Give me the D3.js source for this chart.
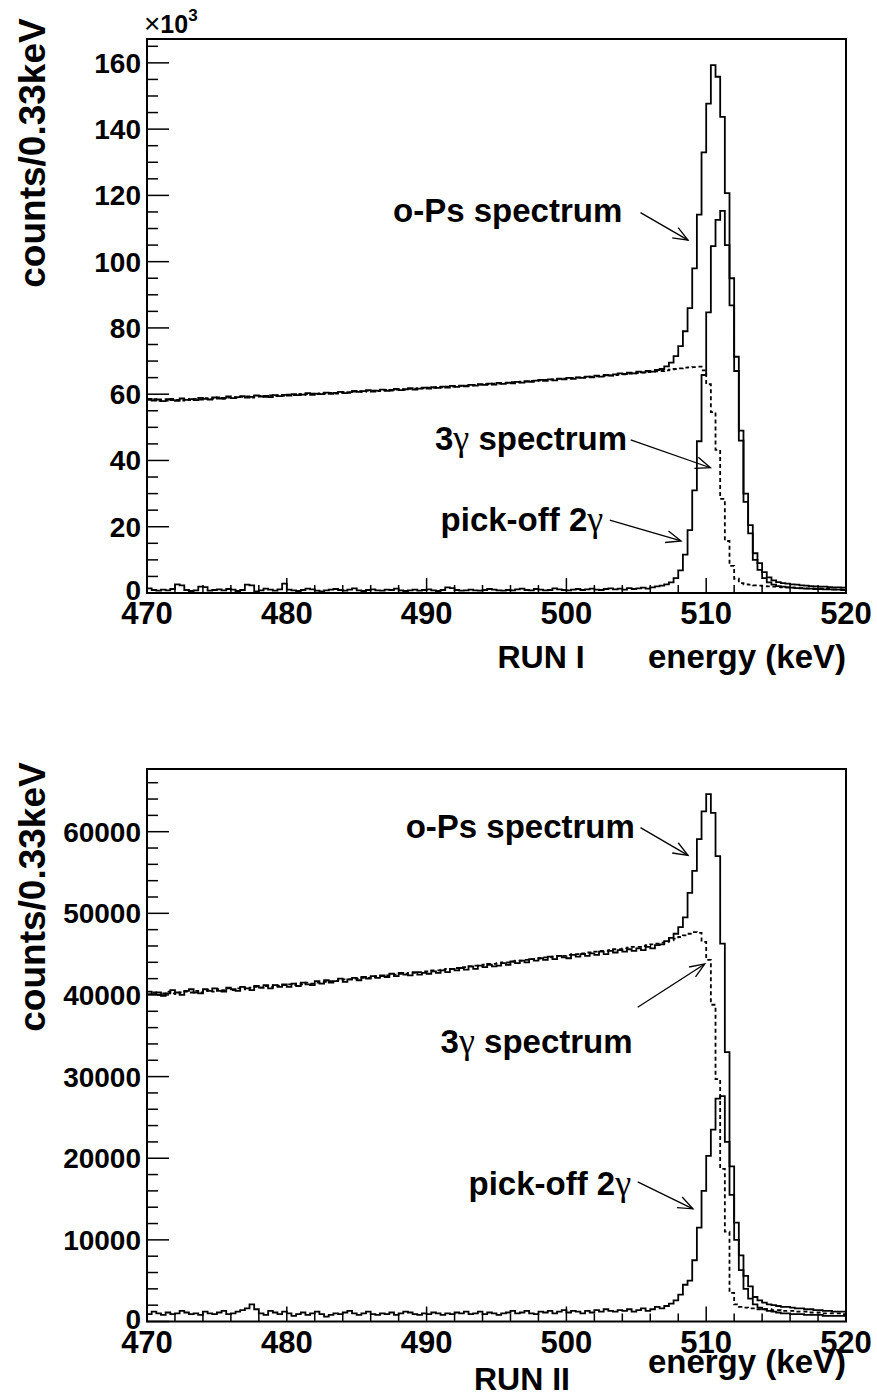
<!DOCTYPE html>
<html>
<head>
<meta charset="utf-8">
<script src="https://cdn.jsdelivr.net/npm/d3@7"></script>
<style>
  body { margin: 0; background: #fff; }
  svg text { font-family: "Liberation Sans", Arial, Helvetica, sans-serif; font-weight: bold; fill: #000; }
</style>
</head>
<body>
<svg id="chart" width="877" height="1399"></svg>
<script>
// Energy binning: 150 bins of 1/3 keV between 470 and 520 keV
const energyRange = [470, 520];
const binWidth = 1 / 3;

// ---- RUN I (counts in units of 10^3 per bin) ----
const run1Total = [
  58.6, 58.1, 58.4, 57.9, 58.5, 58.2, 58.0, 58.7, 58.3, 58.5,
  58.2, 58.9, 58.6, 58.4, 59.0, 58.7, 58.9, 59.3, 58.8, 59.1,
  59.4, 59.0, 59.2, 59.6, 59.3, 59.5, 59.1, 59.7, 59.4, 59.8,
  59.6, 60.0, 59.7, 59.9, 60.3, 59.8, 60.2, 60.0, 60.5, 60.1,
  60.4, 60.7, 60.3, 60.6, 61.0, 60.7, 60.9, 61.2, 60.8, 61.1,
  61.4, 61.0, 61.3, 61.6, 61.2, 61.5, 61.8, 61.4, 61.7, 62.0,
  61.7, 62.1, 61.9, 62.3, 62.0, 62.5, 62.2, 62.6, 62.4, 62.8,
  62.6, 63.0, 62.8, 63.2, 62.9, 63.4, 63.1, 63.5, 63.3, 63.7,
  63.5, 63.9, 63.7, 64.1, 64.3, 64.0, 64.5, 64.2, 64.7, 64.5,
  64.9, 64.6, 65.1, 64.9, 65.3, 65.1, 65.6, 65.3, 65.8, 65.6,
  66.0, 66.3, 66.1, 66.5, 66.3, 66.8, 66.6, 67.0, 66.8, 67.3,
  67.6, 68.4, 69.5, 71.5, 74.5, 79.0, 86.0, 98.0, 114.2, 133.0,
  147.7, 159.3, 155.8, 143.7, 120.7, 95.0, 71.3, 49.0, 30.0, 20.5,
  12.0, 9.0, 6.3, 4.7, 3.8, 3.3, 3.0, 2.8, 2.6, 2.5,
  2.3, 2.2, 2.1, 2.0, 1.9, 1.9, 1.8, 1.7, 1.7, 1.6
];
const run1ThreeGamma = [
  58.3, 58.5, 58.0, 58.2, 58.1, 58.6, 58.3, 58.1, 58.5, 58.2,
  58.6, 58.4, 58.8, 58.5, 58.7, 59.0, 58.6, 59.0, 59.1, 58.9,
  59.2, 59.3, 59.0, 59.4, 59.5, 59.2, 59.6, 59.4, 59.7, 59.5,
  59.9, 59.7, 60.1, 59.8, 60.0, 60.2, 60.0, 60.3, 60.2, 60.4,
  60.2, 60.5, 60.6, 60.4, 60.8, 60.9, 60.7, 61.0, 61.1, 60.9,
  61.2, 61.3, 61.1, 61.4, 61.5, 61.3, 61.6, 61.7, 61.9, 61.8,
  62.0, 61.9, 62.2, 62.1, 62.3, 62.3, 62.4, 62.5, 62.6, 62.7,
  62.8, 62.9, 63.0, 63.0, 63.2, 63.2, 63.4, 63.4, 63.6, 63.6,
  63.8, 63.8, 64.0, 64.0, 64.2, 64.3, 64.4, 64.5, 64.6, 64.7,
  64.8, 64.9, 65.0, 65.1, 65.2, 65.3, 65.4, 65.5, 65.6, 65.7,
  65.8, 65.9, 66.0, 66.2, 66.3, 66.4, 66.5, 66.7, 66.8, 66.9,
  67.0, 67.2, 67.4, 67.6, 67.8, 68.0, 68.1, 68.2, 68.3, 67.2,
  63.0, 54.6, 43.2, 28.4, 15.7, 8.2, 4.3, 3.0, 2.6, 2.5,
  2.3, 2.2, 2.1, 2.0, 1.9, 1.8, 1.7, 1.7, 1.6, 1.5,
  1.5, 1.4, 1.4, 1.3, 1.3, 1.2, 1.2, 1.1, 1.1, 1.0
];
const run1PickOff = [
  1.4, 0.9, 0.7, 1.0, 0.8, 1.2, 2.6, 2.3, 0.9, 0.6,
  0.8, 1.9, 1.8, 0.7, 0.9, 1.1, 0.8, 1.2, 1.0, 0.6,
  0.9, 2.5, 2.3, 0.5, 0.8, 1.3, 1.0, 0.7, 1.1, 2.8,
  1.0, 0.8, 0.6, 0.9, 1.3, 1.1, 0.7, 0.5, 0.8, 1.0,
  1.2, 0.9, 0.7, 1.0, 1.4, 0.8, 0.6, 0.9, 1.1, 0.8,
  0.7, 1.0, 0.9, 1.3, 0.8, 0.6, 0.8, 1.0, 0.7, 0.9,
  1.1, 0.8, 0.6, 0.9, 1.7, 1.5, 0.9, 0.7, 0.8, 1.0,
  0.8, 0.7, 0.9, 1.2, 1.0, 0.8, 0.7, 0.9, 0.8, 1.1,
  1.3, 0.9, 0.8, 1.2, 1.0, 0.8, 0.9, 1.4, 1.1, 0.9,
  0.8, 1.0, 1.2, 0.9, 1.1, 1.3, 1.0, 0.9, 1.2, 1.4,
  1.1, 1.3, 1.0, 1.5, 1.2, 1.4, 1.6, 1.3, 1.7, 2.0,
  2.2, 2.6, 3.2, 4.5, 6.8, 11.6, 19.0, 31.0, 45.8, 65.8,
  84.7, 104.7, 112.6, 115.3, 105.0, 86.8, 67.0, 46.0, 27.5, 18.0,
  10.0, 7.0, 4.5, 3.2, 2.5, 2.1, 1.9, 1.7, 1.6, 1.5,
  1.4, 1.3, 1.3, 1.2, 1.2, 1.1, 1.1, 1.0, 1.0, 0.9
];

// ---- RUN II (counts in units of 10^3 per bin) ----
const run2Total = [
  40.4, 40.1, 40.3, 39.9, 40.2, 40.6, 40.3, 40.0, 40.5, 40.7,
  40.3, 40.2, 40.7, 40.5, 40.8, 40.5, 40.4, 40.9, 40.7, 40.5,
  41.0, 40.8, 40.6, 41.1, 40.9, 41.2, 40.8, 41.2, 41.0, 41.3,
  41.0, 41.4, 41.1, 41.5, 41.3, 41.2, 41.7, 41.4, 41.8, 41.5,
  41.7, 42.0, 41.6, 41.9, 42.1, 41.8, 42.2, 42.0, 42.3, 42.1,
  42.4, 42.2, 42.6, 42.3, 42.7, 42.5, 42.4, 42.8, 42.5, 42.7,
  42.6, 42.9, 42.7, 43.0, 42.8, 43.2, 43.0, 43.3, 43.1, 43.5,
  43.2, 43.6, 43.4, 43.7, 43.5, 43.6, 43.9, 43.7, 44.1, 43.9,
  44.2, 44.0, 44.4, 44.2, 44.5, 44.3, 44.7, 44.4, 44.8, 44.6,
  44.5, 44.9, 44.7, 45.0, 44.8, 45.1, 44.9, 45.3, 45.0, 45.4,
  45.2, 45.5, 45.3, 45.6, 45.4, 45.7, 45.5, 45.9, 45.7, 46.1,
  46.2, 46.6, 47.0, 47.5, 48.3, 49.5, 52.5, 55.2, 59.1, 62.5,
  64.6, 62.3, 57.0, 46.3, 33.0, 19.0, 12.1, 8.1, 5.6, 4.3,
  3.0, 2.6, 2.3, 2.1, 2.0, 1.9, 1.8, 1.8, 1.7, 1.6,
  1.6, 1.5, 1.5, 1.4, 1.4, 1.3, 1.3, 1.2, 1.2, 1.2
];
const run2ThreeGamma = [
  40.1, 40.3, 40.0, 40.2, 40.4, 40.2, 40.1, 40.3, 40.4, 40.3,
  40.5, 40.3, 40.5, 40.6, 40.4, 40.7, 40.6, 40.8, 40.6, 40.8,
  40.9, 40.7, 40.9, 41.0, 40.9, 41.1, 41.0, 41.2, 41.1, 41.2,
  41.3, 41.2, 41.4, 41.3, 41.5, 41.4, 41.5, 41.6, 41.6, 41.7,
  41.7, 41.8, 41.9, 41.9, 42.0, 42.0, 42.1, 42.1, 42.2, 42.3,
  42.3, 42.4, 42.4, 42.5, 42.6, 42.6, 42.7, 42.7, 42.8, 42.9,
  42.9, 43.0, 43.0, 43.1, 43.2, 43.2, 43.3, 43.4, 43.4, 43.5,
  43.6, 43.6, 43.7, 43.8, 43.8, 43.9, 44.0, 44.0, 44.1, 44.2,
  44.2, 44.3, 44.4, 44.4, 44.5, 44.6, 44.6, 44.7, 44.8, 44.8,
  44.9, 45.0, 45.0, 45.1, 45.2, 45.2, 45.3, 45.4, 45.4, 45.5,
  45.6, 45.6, 45.7, 45.8, 45.9, 45.9, 46.0, 46.1, 46.2, 46.3,
  46.4, 46.5, 46.7, 46.9, 47.1, 47.3, 47.5, 47.7, 47.6, 46.5,
  44.3, 38.8, 29.7, 18.7, 11.0, 3.5, 2.1, 1.8, 1.7, 1.6,
  1.6, 1.5, 1.5, 1.5, 1.4, 1.4, 1.3, 1.3, 1.3, 1.2,
  1.2, 1.2, 1.1, 1.1, 1.1, 1.0, 1.0, 1.0, 1.0, 0.9
];
const run2PickOff = [
  0.9, 1.2, 1.0, 0.8, 1.1, 0.9, 1.0, 1.3, 1.1, 0.9,
  1.0, 0.8, 1.2, 1.0, 0.9, 1.1, 1.3, 0.9, 1.0, 1.2,
  1.4, 1.6, 2.1, 1.5, 1.0, 0.8, 1.3, 1.1, 0.9, 1.2,
  1.0, 0.7, 0.9, 1.1, 0.8, 1.0, 1.2, 0.9, 0.6, 0.8,
  1.0, 0.9, 1.1, 1.3, 1.0, 0.8, 1.0, 1.2, 0.9, 0.8,
  1.0, 0.9, 1.1, 0.8, 1.0, 1.2, 1.1, 0.9, 0.8, 1.0,
  0.9, 1.1, 1.0, 0.8, 1.0, 0.9, 1.1, 1.0, 1.2, 0.9,
  1.0, 1.2, 0.9, 1.1, 1.0, 0.8, 1.0, 1.1, 1.3, 1.0,
  1.1, 1.3, 1.0, 0.9, 1.2, 1.1, 1.3, 1.0, 1.2, 1.4,
  1.1, 1.3, 1.2, 1.0, 1.3, 1.1, 1.4, 1.2, 1.5, 1.3,
  1.2, 1.4, 1.3, 1.5, 1.2, 1.4, 1.6, 1.3, 1.5, 1.8,
  1.6, 1.9, 2.2, 2.6, 3.3, 4.5, 5.0, 7.5, 11.5, 16.0,
  20.3, 23.5, 27.3, 27.6, 22.0, 15.5, 10.0, 6.3, 4.0, 2.8,
  2.1, 1.7, 1.5, 1.3, 1.2, 1.1, 1.0, 1.0, 0.9, 0.9,
  0.9, 0.8, 0.8, 0.8, 0.8, 0.7, 0.7, 0.7, 0.7, 0.7
];

// Axis ticks
const xTickValues = [470, 480, 490, 500, 510, 520];
const run1YTicks = [0, 20, 40, 60, 80, 100, 120, 140, 160];
const run1YTickLabels = ["0", "20", "40", "60", "80", "100", "120", "140", "160"];
const run2YTicks = [0, 10, 20, 30, 40, 50, 60];
const run2YTickLabels = ["0", "10000", "20000", "30000", "40000", "50000", "60000"];

const svg = d3.select("#chart");

function drawPanel(p) {
  const g = svg.append("g");
  const x = d3.scaleLinear().domain(energyRange).range([p.left, p.right]);
  const y = d3.scaleLinear().domain([0, p.yMax]).range([p.bottom, p.top]);

  const clipId = "clip" + p.id;
  g.append("clipPath").attr("id", clipId)
    .append("rect").attr("x", p.left).attr("y", p.top)
    .attr("width", p.right - p.left).attr("height", p.bottom - p.top);

  const stepLine = d3.line()
    .x(d => x(d[0])).y(d => y(d[1]))
    .curve(d3.curveStepAfter);

  function histPoints(values) {
    const pts = values.map((v, i) => [energyRange[0] + i * binWidth, v]);
    pts.push([energyRange[1], values[values.length - 1]]);
    return pts;
  }

  const hg = g.append("g").attr("clip-path", `url(#${clipId})`);
  p.series.forEach(s => {
    hg.append("path")
      .attr("d", stepLine(histPoints(s.values)))
      .attr("fill", "none")
      .attr("stroke", "#000")
      .attr("stroke-width", 1.8)
      .attr("stroke-dasharray", s.dashed ? "4,3" : null);
  });

  // x-axis ticks (drawn inward, upward from the bottom axis)
  const xMinor = d3.range(energyRange[0], energyRange[1] + 0.001, 2);
  g.selectAll(null).data(xMinor).enter().append("line")
    .attr("x1", d => x(d)).attr("x2", d => x(d))
    .attr("y1", p.bottom).attr("y2", d => p.bottom - (xTickValues.includes(d) ? 15 : 8))
    .attr("stroke", "#000").attr("stroke-width", 1.5);
  g.selectAll(null).data(xTickValues).enter().append("text")
    .attr("x", d => x(d)).attr("y", p.bottom + 31)
    .attr("text-anchor", "middle").attr("font-size", 31)
    .text(d => d);

  // y-axis ticks
  const yMinor = d3.range(0, p.yMax, p.yMinorStep);
  g.selectAll(null).data(yMinor).enter().append("line")
    .attr("x1", p.left).attr("x2", d => p.left + (p.yTicks.some(t => Math.abs(t - d) < 1e-6) ? 22 : 11))
    .attr("y1", d => y(d)).attr("y2", d => y(d))
    .attr("stroke", "#000").attr("stroke-width", 1.5);
  g.selectAll(null).data(p.yTicks).enter().append("text")
    .attr("x", p.left - 6).attr("y", d => y(d) + (d === 0 ? 7 : 10))
    .attr("text-anchor", "end").attr("font-size", 28)
    .text((d, i) => p.yTickLabels[i]);

  // frame
  g.append("rect").attr("x", p.left).attr("y", p.top)
    .attr("width", p.right - p.left).attr("height", p.bottom - p.top)
    .attr("fill", "none").attr("stroke", "#000").attr("stroke-width", 2);

  // y-axis title
  g.append("text")
    .attr("transform", `translate(${p.yTitleX},${p.yTitleY}) rotate(-90)`)
    .attr("text-anchor", "middle").attr("font-size", 37)
    .text("counts/0.33keV");

  // x-axis title and run label
  g.append("text").attr("x", p.right).attr("y", p.xTitleY)
    .attr("text-anchor", "end").attr("font-size", 33).text("energy (keV)");
  g.append("text").attr("x", p.runX).attr("y", p.runY)
    .attr("text-anchor", "middle").attr("font-size", 32).text(p.runLabel);

  // annotations with open arrowheads
  p.notes.forEach(n => {
    const t = g.append("text").attr("x", x(n.textAt[0])).attr("y", y(n.textAt[1]))
      .attr("font-size", 33);
    t.append("tspan").text(n.pre);
    if (n.gamma) {
      t.append("tspan").attr("font-family", '"Liberation Serif", "DejaVu Serif", serif')
        .attr("font-weight", "normal").attr("font-size", 36).text("\u03b3");
    }
    if (n.post) t.append("tspan").text(n.post);

    const x1 = x(n.from[0]), y1 = y(n.from[1]);
    const x2 = x(n.to[0]), y2 = y(n.to[1]);
    g.append("line").attr("x1", x1).attr("y1", y1).attr("x2", x2).attr("y2", y2)
      .attr("stroke", "#000").attr("stroke-width", 1.3);
    const a = Math.atan2(y2 - y1, x2 - x1), L = 16, w = 0.38;
    const head = d3.path();
    head.moveTo(x2 - L * Math.cos(a - w), y2 - L * Math.sin(a - w));
    head.lineTo(x2, y2);
    head.lineTo(x2 - L * Math.cos(a + w), y2 - L * Math.sin(a + w));
    g.append("path").attr("d", head.toString()).attr("fill", "none")
      .attr("stroke", "#000").attr("stroke-width", 1.3);
  });
  return { x, y };
}

drawPanel({
  id: 1, left: 147, right: 846, top: 39, bottom: 593, yMax: 167.2,
  yTicks: run1YTicks, yTickLabels: run1YTickLabels, yMinorStep: 5,
  series: [
    { values: run1Total, dashed: false },
    { values: run1ThreeGamma, dashed: true },
    { values: run1PickOff, dashed: false }
  ],
  yTitleX: 45, yTitleY: 153,
  xTitleY: 668, runLabel: "RUN I", runX: 541, runY: 668,
  notes: [
    { pre: "o-Ps spectrum", gamma: false, textAt: [487.6, 112.0], from: [505.3, 114.8], to: [508.7, 106.5] },
    { pre: "3", gamma: true, post: " spectrum", textAt: [490.6, 43.2], from: [504.6, 46.2], to: [510.3, 37.8] },
    { pre: "pick-off 2", gamma: true, textAt: [491.0, 18.7], from: [503.1, 22.0], to: [508.2, 15.7] }
  ]
});

drawPanel({
  id: 2, left: 147, right: 846, top: 769, bottom: 1321.5, yMax: 67.68,
  yTicks: run2YTicks, yTickLabels: run2YTickLabels, yMinorStep: 2,
  series: [
    { values: run2Total, dashed: false },
    { values: run2ThreeGamma, dashed: true },
    { values: run2PickOff, dashed: false }
  ],
  yTitleX: 45, yTitleY: 897,
  xTitleY: 1373, runLabel: "RUN II", runX: 522, runY: 1390,
  notes: [
    { pre: "o-Ps spectrum", gamma: false, textAt: [488.5, 59.2], from: [505.3, 60.5], to: [508.7, 57.1] },
    { pre: "3", gamma: true, post: " spectrum", textAt: [491.0, 32.9], from: [505.1, 38.5], to: [509.9, 43.8] },
    { pre: "pick-off 2", gamma: true, textAt: [493.0, 15.5], from: [505.1, 17.1], to: [509.05, 13.8] }
  ]
});

// "x10^3" multiplier above the RUN I frame
const mult = svg.append("text").attr("x", 144).attr("y", 33).attr("font-size", 25);
mult.append("tspan").attr("font-weight", "normal").attr("font-size", 28).text("\u00d7");
mult.append("tspan").text("10");
mult.append("tspan").attr("font-size", 17).attr("dy", -12).text("3");
</script>
</body>
</html>
